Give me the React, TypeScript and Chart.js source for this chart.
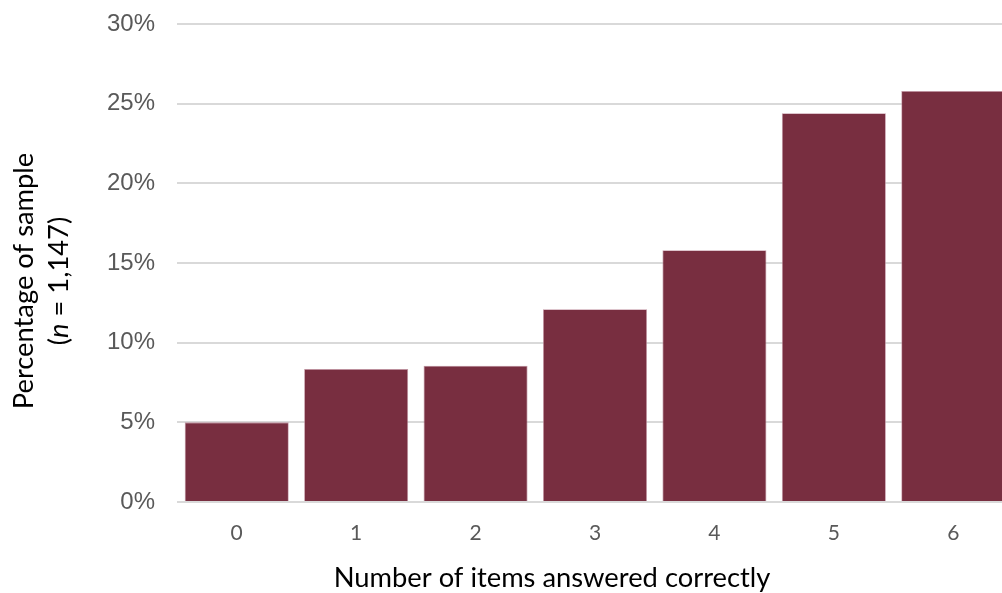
import React, { useEffect, useRef } from "react";
import { Chart, registerables } from "chart.js";

Chart.register(...registerables);

const categories = ["0", "1", "2", "3", "4", "5", "6"];
const percentages = [5.0, 8.35, 8.55, 12.1, 15.8, 24.4, 25.8];
const yMin = 0;
const yMax = 30;
const yStep = 5;
const xTitle = "Number of items answered correctly";
const yTitleLine1 = "Percentage of sample";
const yTitleLine2Parts = [
  { text: "(", italic: false },
  { text: "n", italic: true },
  { text: " = 1,147)", italic: false },
];

const BAR_COLOR = "#782e40";
const TITLE_FAMILY = "Lato, 'Open Sans', sans-serif";

const titlePlugin = {
  id: "customTitles",
  afterDraw(chart: any) {
    const ctx: CanvasRenderingContext2D = chart.ctx;
    ctx.save();
    ctx.font = `100px ${TITLE_FAMILY}`;
    const w100 = ctx.measureText(xTitle).width;
    const size = (100 * 437) / w100;
    const font = `${size}px ${TITLE_FAMILY}`;
    const italicFont = `italic ${size}px ${TITLE_FAMILY}`;
    ctx.fillStyle = "#000000";
    ctx.textBaseline = "alphabetic";

    ctx.font = font;
    ctx.textAlign = "center";
    ctx.fillText(xTitle, 552, 587);

    ctx.save();
    ctx.translate(33, 281);
    ctx.rotate(-Math.PI / 2);
    ctx.textAlign = "center";
    ctx.font = font;
    ctx.fillText(yTitleLine1, 0, 0);
    ctx.restore();

    ctx.save();
    ctx.translate(68, 281);
    ctx.rotate(-Math.PI / 2);
    ctx.textAlign = "left";
    let total = 0;
    const widths = yTitleLine2Parts.map((p) => {
      ctx.font = p.italic ? italicFont : font;
      const w = ctx.measureText(p.text).width;
      total += w;
      return w;
    });
    let x = -total / 2;
    yTitleLine2Parts.forEach((p, i) => {
      ctx.font = p.italic ? italicFont : font;
      ctx.fillText(p.text, x, 0);
      x += widths[i];
    });
    ctx.restore();

    ctx.restore();
  },
};

export default function App() {
  const canvasRef = useRef<HTMLCanvasElement | null>(null);

  useEffect(() => {
    if (!canvasRef.current) return;
    const chart = new Chart(canvasRef.current, {
      type: "bar",
      data: {
        labels: categories,
        datasets: [
          {
            data: percentages,
            backgroundColor: BAR_COLOR,
            borderColor: "rgba(190,140,155,0.9)",
            borderWidth: 0.8,
            barPercentage: 0.871,
            categoryPercentage: 1.0,
          },
        ],
      },
      options: {
        responsive: false,
        maintainAspectRatio: false,
        animation: false,
        devicePixelRatio: 1,
        layout: { padding: { left: 0, right: 1, top: 24, bottom: 0 } },
        plugins: {
          legend: { display: false },
          tooltip: { enabled: false },
          title: { display: false },
        },
        scales: {
          x: {
            grid: { display: false, drawTicks: false },
            border: { display: false },
            ticks: {
              color: "#595959",
              font: { family: TITLE_FAMILY, size: 21 },
              padding: 19,
              maxRotation: 0,
            },
            afterFit(scale: any) {
              scale.height = 91;
              scale.paddingTop = 0;
              scale.paddingBottom = 0;
            },
          },
          y: {
            min: yMin,
            max: yMax,
            ticks: {
              stepSize: yStep,
              color: "#595959",
              font: { family: "'Liberation Sans', Arial, sans-serif", size: 24 },
              padding: 22,
              callback: (v: any) => `${v}%`,
            },
            grid: { color: "#d9d9d9", lineWidth: 2, drawTicks: false },
            border: { display: false },
            afterFit(scale: any) {
              scale.width = 177;
              scale.paddingTop = 0;
              scale.paddingBottom = 0;
            },
          },
        },
      },
      plugins: [titlePlugin],
    });
    return () => chart.destroy();
  }, []);

  return (
    <div
      style={{
        position: "absolute",
        left: 0,
        top: 0,
        width: 1002,
        height: 593,
        overflow: "hidden",
        background: "#ffffff",
      }}
    >
      <canvas
        ref={canvasRef}
        width={1014}
        height={593}
        style={{ display: "block", width: 1014, height: 593 }}
      />
    </div>
  );
}
